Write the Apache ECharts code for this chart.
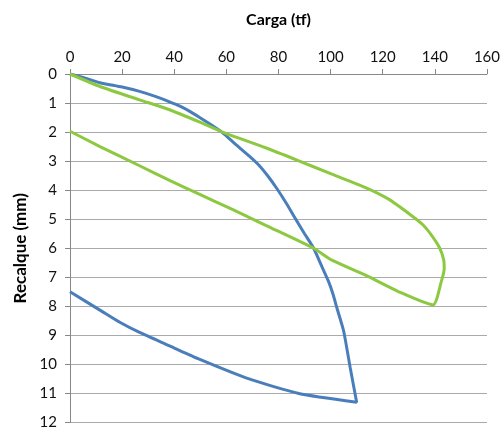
<!DOCTYPE html>
<html>
<head>
<meta charset="utf-8">
<script src="https://cdn.jsdelivr.net/npm/echarts@6/dist/echarts.min.js"></script>
<style>
  html, body { margin: 0; padding: 0; background: #fff; }
  #chart { width: 503px; height: 430px; }
</style>
</head>
<body>
<div id="chart"></div>
<script>
  // curva azul: carregamento e descarregamento
  var cargaAzul = [0, 5, 11.5, 20, 26.7, 33, 38.2, 42, 45.8, 49.6, 54, 58.5, 63, 68.7, 72.5, 76, 79.5, 83, 86.5, 90, 93.5, 96.5, 99.2, 101, 102.4, 105, 107.5, 110,
    87.8, 68.7, 49.6, 38.2, 26.7, 19.1, 11.5, 0];
  var recalqueAzul = [0, 0.12, 0.3, 0.45, 0.6, 0.78, 0.96, 1.1, 1.28, 1.49, 1.74, 2.02, 2.38, 2.82, 3.14, 3.52, 3.96, 4.45, 4.98, 5.5, 6.0, 6.6, 7.14, 7.6, 8.05, 8.85, 10.1, 11.3,
    11.0, 10.5, 9.82, 9.36, 8.9, 8.55, 8.13, 7.5];

  // curva verde
  var cargaVerde = [0, 11.5, 26.7, 38.2, 49.6, 58.5, 75.1, 87.8, 100.5, 113.2, 122.1, 131, 135.5, 138.7, 141.9, 143.4, 143.6, 142.5, 139.3,
    126, 113.2, 100.5, 93.5, 75.1, 62.3, 49.6, 38.2, 26.7, 11.5, 0];
  var recalqueVerde = [0, 0.43, 0.89, 1.23, 1.65, 2.0, 2.54, 2.99, 3.45, 3.9, 4.3, 4.87, 5.2, 5.55, 6.0, 6.4, 6.7, 7.14, 7.95,
    7.49, 6.92, 6.41, 6.0, 5.21, 4.66, 4.14, 3.66, 3.16, 2.5, 1.97];

  function pares(xs, ys) {
    var out = [];
    for (var i = 0; i < xs.length; i++) {
      out.push([xs[i], ys[i]]);
    }
    return out;
  }

  var chart = echarts.init(document.getElementById('chart'));

  var option = {
    animation: false,
    grid: { left: 70, right: 14, top: 74, bottom: 4 },
    textStyle: { fontFamily: 'Lato, "Open Sans", sans-serif' },
    xAxis: {
      type: 'value',
      position: 'top',
      min: 0,
      max: 160,
      interval: 20,
      name: 'Carga (tf)',
      nameLocation: 'middle',
      nameGap: 46,
      nameTextStyle: { fontSize: 16, fontWeight: 'bold', color: '#000' },
      axisLine: { show: true, lineStyle: { color: '#888', width: 1 } },
      axisTick: { show: true, length: 5, lineStyle: { color: '#888' } },
      axisLabel: { fontSize: 15, color: '#111', margin: 9 },
      splitLine: { show: false }
    },
    yAxis: {
      type: 'value',
      inverse: true,
      min: 0,
      max: 12,
      interval: 1,
      name: 'Recalque (mm)',
      nameLocation: 'middle',
      nameGap: 41,
      nameTextStyle: { fontSize: 17, fontWeight: 'bold', color: '#000' },
      axisLine: { show: true, lineStyle: { color: '#888', width: 1 } },
      axisTick: { show: true, length: 5, lineStyle: { color: '#888' } },
      axisLabel: { fontSize: 15, color: '#111', margin: 13 },
      splitLine: { show: true, lineStyle: { color: '#aaa', width: 1 } }
    },
    series: [
      {
        name: 'azul',
        type: 'line',
        data: pares(cargaAzul, recalqueAzul),
        showSymbol: false,
        smooth: 0.2,
        lineStyle: { color: '#4a7ebb', width: 3 }
      },
      {
        name: 'verde',
        type: 'line',
        data: pares(cargaVerde, recalqueVerde),
        showSymbol: false,
        smooth: 0.2,
        lineStyle: { color: '#8cc940', width: 3 }
      }
    ]
  };

  chart.setOption(option);
</script>
</body>
</html>
